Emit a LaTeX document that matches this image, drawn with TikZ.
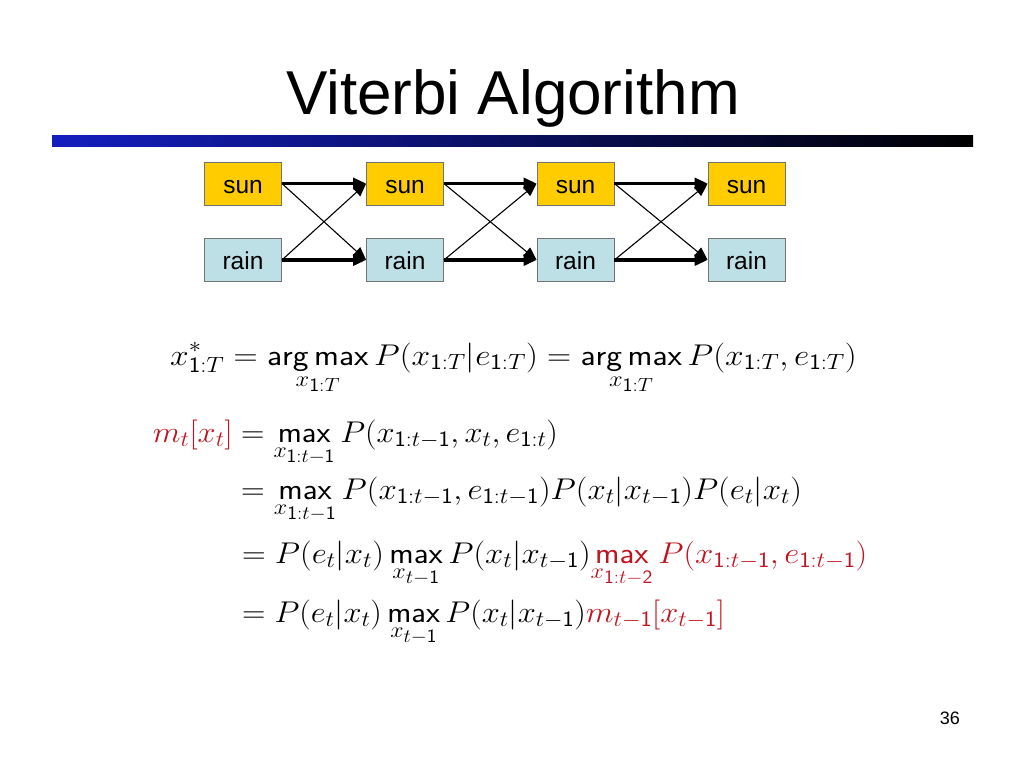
\RequirePackage{fix-cm}
\documentclass[tikz,border=0pt]{standalone}
\usepackage{amsmath}
\usepackage{graphicx}
\usepackage{fontspec}
\newfontfamily\arial{Liberation Sans}
\usetikzlibrary{arrows.meta}
\DeclareMathSizes{30}{30}{22}{19}
\definecolor{sunc}{RGB}{255,204,0}
\definecolor{rainc}{RGB}{189,224,230}
\definecolor{eqred}{RGB}{192,20,32}
\definecolor{barblue}{RGB}{20,30,190}
\newcommand\sfd[1]{\mathsf{#1}}
\newcommand\myargmax{\operatorname*{\mathsf{arg\,max}}}
\newcommand\mymax{\operatorname*{\mathsf{max}}}
\newcommand\eqs[2][1.08]{\scalebox{#1}[1]{$\displaystyle #2$}}
\tikzset{
  state/.style={draw=gray!90!black, line width=0.8pt, minimum width=77pt, minimum height=43pt, inner sep=0pt, text height=19pt, text depth=0pt, font=\arial\fontsize{24.5}{28}\selectfont},
  sunbox/.style={state, fill=sunc},
  rainbox/.style={state, fill=rainc},
  thickarr/.style={line width=3.2pt, -{Triangle[length=13pt,width=11pt]}},
  thinarr/.style={line width=1.1pt, -{Triangle[length=13pt,width=11pt]}},
  eq/.style={anchor=base west, inner sep=0pt, font=\fontsize{30}{36}\selectfont}
}
\begin{document}
\begin{tikzpicture}[x=1pt,y=-1pt]
\useasboundingbox (0,0) rectangle (1024,768);
% title
\node[font=\arial\fontsize{62}{70}\selectfont, anchor=base, inner sep=0pt] (title) at (513,114) {Viterbi Algorithm};
\shade[left color=barblue, right color=black] (52,135) rectangle (973,146);
% trellis
\foreach \i/\x in {1/243,2/405,3/575.5,4/746.5}{
  \node[sunbox] (s\i) at (\x,183.5) {sun};
  \node[rainbox] (r\i) at (\x,260) {rain};
}
\foreach \i/\j in {1/2,2/3,3/4}{
  \draw[thinarr] (s\i.east) -- (r\j.west);
  \draw[thinarr] (r\i.east) -- (s\j.west);
  \draw[thickarr] (s\i.east) -- (s\j.west);
  \draw[thickarr] (r\i.east) -- (r\j.west);
}
% equations
\node[eq] (e1) at (170,365) {\eqs[1.115]{x^*_{\sfd{1}:T} = \myargmax_{x_{\sfd{1}:T}} P(x_{\sfd{1}:T}|e_{\sfd{1}:T}) = \myargmax_{x_{\sfd{1}:T}} P(x_{\sfd{1}:T}, e_{\sfd{1}:T})}};
\node[eq] (e2) at (241,442) {\eqs{= \mymax_{x_{\sfd{1}:t-\sfd{1}}} P(x_{\sfd{1}:t-\sfd{1}}, x_t, e_{\sfd{1}:t})}};
\node[eq, anchor=base east] (lhs) at ([xshift=-8pt]e2.base west) {\eqs{\textcolor{eqred}{m_t[x_t]}}};
\node[eq] (e3) at (241,499) {\eqs[1.095]{= \mymax_{x_{\sfd{1}:t-\sfd{1}}} P(x_{\sfd{1}:t-\sfd{1}}, e_{\sfd{1}:t-\sfd{1}})P(x_t|x_{t-\sfd{1}})P(e_t|x_t)}};
\node[eq] (e4) at (242,563) {\eqs[1.095]{= P(e_t|x_t) \mymax_{x_{t-\sfd{1}}} P(x_t|x_{t-\sfd{1}})\textcolor{eqred}{\mymax_{x_{\sfd{1}:t-\sfd{2}}} P(x_{\sfd{1}:t-\sfd{1}}, e_{\sfd{1}:t-\sfd{1}})}}};
\node[eq] (e5) at (242,622) {\eqs{= P(e_t|x_t) \mymax_{x_{t-\sfd{1}}} P(x_t|x_{t-\sfd{1}})\textcolor{eqred}{m_{t-\sfd{1}}[x_{t-\sfd{1}}]}}};
% page number
\node[font=\arial\fontsize{18}{20}\selectfont, anchor=base east, inner sep=0pt] (pg) at (960,724) {36};
\end{tikzpicture}
\end{document}
